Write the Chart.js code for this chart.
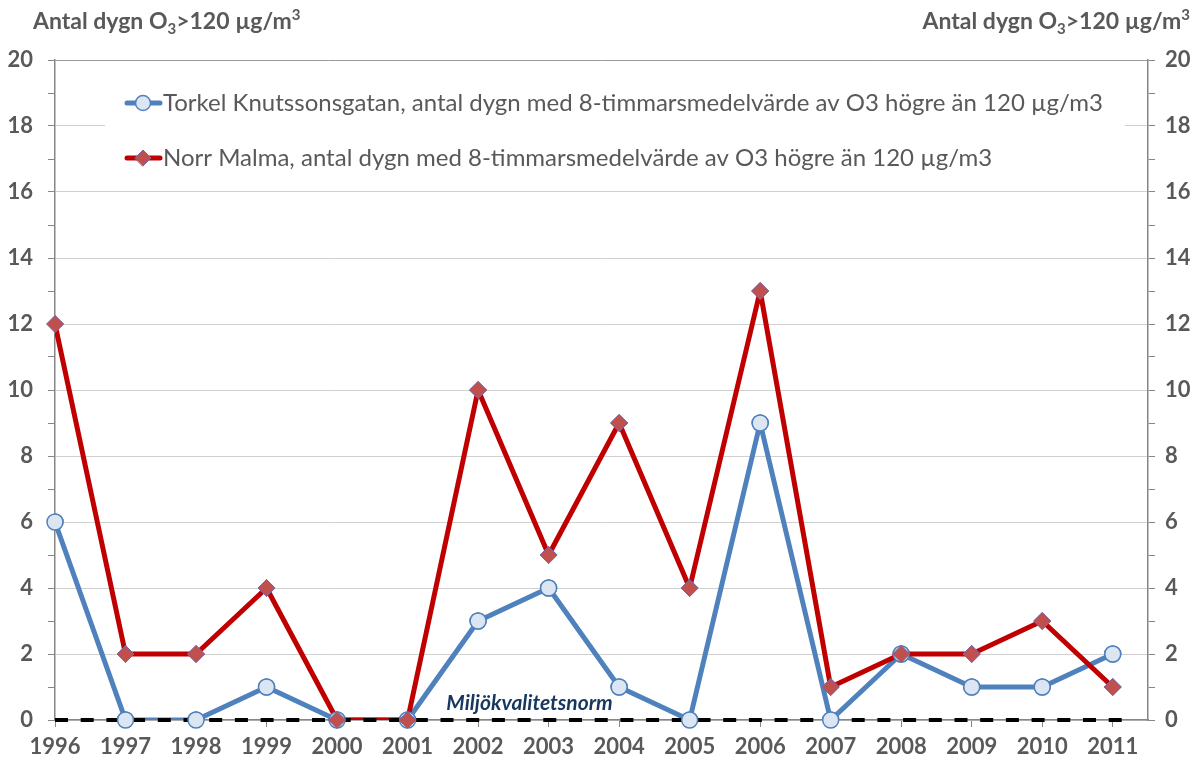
<!DOCTYPE html>
<html>
<head>
<meta charset="utf-8">
<script src="https://cdn.jsdelivr.net/npm/chart.js@4"></script>
<style>
  body { margin: 0; background: #fff; }
  .wrap { width: 1202px; height: 767px; position: relative; }
</style>
</head>
<body>
<div class="wrap"><canvas id="ozonChart"></canvas></div>
<script>
// years on the x axis
const years = [1996, 1997, 1998, 1999, 2000, 2001, 2002, 2003, 2004, 2005, 2006, 2007, 2008, 2009, 2010, 2011];

// antal dygn with 8h mean > 120
const torkelData = [6, 0, 0, 1, 0, 0, 3, 4, 1, 0, 9, 0, 2, 1, 1, 2];
const malmaData = [12, 2, 2, 4, 0, 0, 10, 5, 9, 4, 13, 1, 2, 2, 3, 1];

// miljökvalitetsnorm line
const normYears = [1996, 2011.15];
const normValues = [0, 0];

const yTicks = [0, 2, 4, 6, 8, 10, 12, 14, 16, 18, 20];

const torkelLabel = "Torkel Knutssonsgatan, antal dygn med 8-timmarsmedelvärde av O3 högre än 120 µg/m3";
const malmaLabel = "Norr Malma, antal dygn med 8-timmarsmedelvärde av O3 högre än 120 µg/m3";

const textColor = "#595959";
const axisColor = "#868686";
const blue = "#4f81bd";
const red = "#c00000";

const toPoints = (xs, ys) => xs.map((x, i) => ({ x: x, y: ys[i] }));

// markers go over the dashed norm line, like in excel
const pointsOnTop = {
  id: "pointsOnTop",
  afterDatasetsDraw(chart) {
    const ctx = chart.ctx;
    [0, 1].forEach((i) => {
      chart.getDatasetMeta(i).data.forEach((pt) => pt.draw(ctx, chart.chartArea));
    });
  },
};

// legend drawn by hand inside the plot (white box, line + marker, text)
const insideLegend = {
  id: "insideLegend",
  afterDatasetsDraw(chart) {
    const a = chart.chartArea;
    const ctx = chart.ctx;
    ctx.save();
    ctx.fillStyle = "#fff";
    ctx.fillRect(a.left + 50, a.top + 18, a.right - a.left - 73, 107);

    const items = chart.data.datasets.slice(0, 2);
    items.forEach((ds, i) => {
      const cy = a.top + 43 + i * 55;
      const x0 = a.left + 70;
      ctx.strokeStyle = ds.borderColor;
      ctx.lineWidth = 5;
      ctx.lineCap = "round";
      ctx.beginPath();
      ctx.moveTo(x0 + 2, cy);
      ctx.lineTo(x0 + 35, cy);
      ctx.stroke();
      const mx = x0 + 18;
      ctx.beginPath();
      if (ds.pointStyle == "circle") {
        ctx.arc(mx, cy, 7.5, 0, Math.PI * 2);
      } else {
        ctx.moveTo(mx - 8, cy);
        ctx.lineTo(mx, cy - 8);
        ctx.lineTo(mx + 8, cy);
        ctx.lineTo(mx, cy + 8);
        ctx.closePath();
      }
      ctx.fillStyle = ds.pointBackgroundColor;
      ctx.fill();
      ctx.lineWidth = ds.pointBorderWidth;
      ctx.strokeStyle = ds.pointBorderColor;
      ctx.stroke();

      ctx.fillStyle = textColor;
      ctx.font = "24px Lato";
      ctx.textBaseline = "middle";
      ctx.textAlign = "left";
      ctx.fillText(ds.label, x0 + 38, cy);
    });
    ctx.restore();
  },
};

// norm label + axis titles
const extraText = {
  id: "extraText",
  afterDatasetsDraw(chart) {
    const ctx = chart.ctx;
    const x = chart.scales.x;
    const y = chart.scales.y;
    ctx.save();
    ctx.font = "italic bold 21px Lato";
    ctx.fillStyle = "#17375e";
    ctx.textBaseline = "alphabetic";
    ctx.textAlign = "left";
    ctx.fillText("Miljökvalitetsnorm", x.getPixelForValue(2001.55), y.getPixelForValue(0) - 10);
    ctx.restore();
  },
  afterDraw(chart) {
    const ctx = chart.ctx;
    ctx.save();
    ctx.fillStyle = textColor;
    ctx.textBaseline = "alphabetic";
    const parts = [
      ["Antal dygn O", 23, 0],
      ["3", 15, 5],
      [">120 µg/m", 23, 0],
      ["3", 15, -9],
    ];
    const total = parts.reduce((w, p) => {
      ctx.font = "bold " + p[1] + "px Lato";
      return w + ctx.measureText(p[0]).width;
    }, 0);
    const drawAt = (startX) => {
      let cx = startX;
      parts.forEach((p) => {
        ctx.font = "bold " + p[1] + "px Lato";
        ctx.fillText(p[0], cx, 29 + p[2]);
        cx += ctx.measureText(p[0]).width;
      });
    };
    drawAt(33);
    drawAt(1190 - total);
    ctx.restore();
  },
};

const tickFont = { family: "Lato", size: 22, weight: "bold" };

const yAxisCommon = {
  min: 0,
  max: 20,
  border: { color: axisColor, width: 1.5 },
  ticks: {
    stepSize: 1,
    autoSkip: false,
    color: textColor,
    font: tickFont,
    callback: (v) => (yTicks.includes(v) ? v : ""),
  },
};

new Chart(document.querySelector("#ozonChart"), {
  type: "line",
  data: {
    datasets: [
      {
        label: torkelLabel,
        data: toPoints(years, torkelData),
        borderColor: blue,
        borderWidth: 5,
        borderJoinStyle: "round",
        pointStyle: "circle",
        pointRadius: 8,
        pointBackgroundColor: "#dce6f2",
        pointBorderColor: blue,
        pointBorderWidth: 1.5,
        order: 2,
      },
      {
        label: malmaLabel,
        data: toPoints(years, malmaData),
        borderColor: red,
        borderWidth: 5,
        borderJoinStyle: "round",
        pointStyle: "rectRot",
        pointRadius: 8.5,
        pointBackgroundColor: "#c0504d",
        pointBorderColor: "#8064a2",
        pointBorderWidth: 1,
        order: 1,
      },
      {
        label: "Miljökvalitetsnorm",
        data: toPoints(normYears, normValues),
        borderColor: "#000",
        borderWidth: 4,
        borderDash: [13, 12.7],
        pointRadius: 0,
        clip: false,
        order: 0,
      },
    ],
  },
  options: {
    responsive: true,
    maintainAspectRatio: false,
    animation: false,
    layout: { padding: { top: 60, left: 0, right: 0, bottom: 0 } },
    scales: {
      x: {
        type: "linear",
        min: 1996,
        max: 2011.5,
        border: { color: axisColor, width: 1.5 },
        grid: {
          drawOnChartArea: false,
          tickLength: 7,
          tickColor: axisColor,
        },
        ticks: {
          stepSize: 1,
          includeBounds: false,
          autoSkip: false,
          maxRotation: 0,
          padding: 7,
          color: textColor,
          font: tickFont,
          callback: (v) => v,
        },
        afterFit(scale) {
          scale.height = 47;
        },
      },
      y: {
        ...yAxisCommon,
        position: "left",
        grid: {
          tickLength: 7,
          tickColor: axisColor,
          color: (ctx) => {
            if (ctx.tick.value == 20) return "#9a9a9a";
            return yTicks.includes(ctx.tick.value) ? "#d0d0d0" : "rgba(0,0,0,0)";
          },
        },
        ticks: { ...yAxisCommon.ticks, padding: 15 },
        afterFit(scale) {
          scale.width = 55;
        },
      },
      y2: {
        ...yAxisCommon,
        position: "right",
        grid: {
          drawOnChartArea: false,
          tickLength: 7,
          tickColor: axisColor,
        },
        ticks: { ...yAxisCommon.ticks, padding: 10 },
        afterFit(scale) {
          scale.width = 54;
        },
      },
    },
    plugins: {
      tooltip: { enabled: false },
      legend: { display: false },
    },
  },
  plugins: [pointsOnTop, insideLegend, extraText],
});
</script>
</body>
</html>
